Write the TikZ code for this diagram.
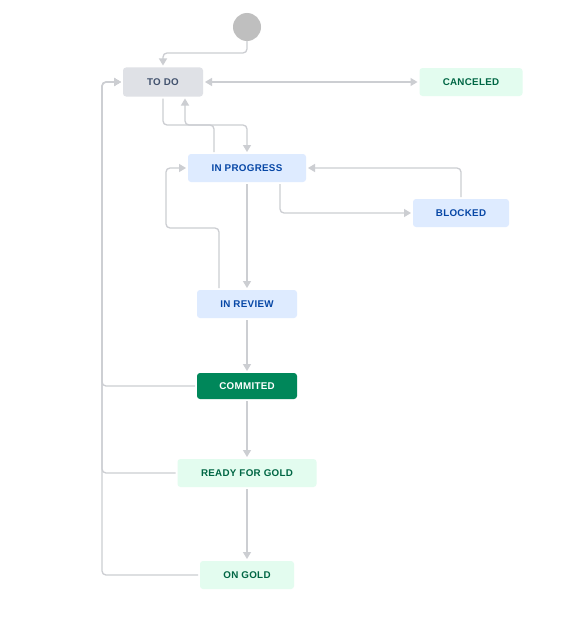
\documentclass[tikz,border=0pt]{standalone}
\usepackage{fontspec}
\setmainfont{Liberation Sans}
\newfontfamily\stfont[LetterSpace=3]{Liberation Sans}
\usetikzlibrary{arrows.meta}
\definecolor{lineC}{HTML}{CCCED2}
\definecolor{startC}{HTML}{BFBFBF}
\definecolor{todoF}{HTML}{DFE1E6}
\definecolor{todoT}{HTML}{42526E}
\definecolor{progF}{HTML}{DEEBFF}
\definecolor{progT}{HTML}{0747A6}
\definecolor{doneF}{HTML}{E3FCEF}
\definecolor{doneT}{HTML}{006644}
\definecolor{comF}{HTML}{00875A}
\tikzset{
  stbox/.style={rounded corners=3pt, inner sep=0pt, outer sep=2pt, font=\stfont\bfseries\fontsize{9.8}{11}\selectfont, anchor=center},
  todobox/.style={stbox, fill=todoF, text=todoT},
  progbox/.style={stbox, fill=progF, text=progT},
  donebox/.style={stbox, fill=doneF, text=doneT},
  combox/.style={stbox, fill=comF, text=white},
  conn/.style={draw=lineC, line width=1.3pt, rounded corners=4pt},
  arr/.style={conn, -{Triangle[length=7pt,width=8pt]}},
  arrb/.style={conn, {Triangle[length=7pt,width=8pt]}-{Triangle[length=7pt,width=8pt]}},
}
\begin{document}
\begin{tikzpicture}[x=1pt,y=-1pt]
\useasboundingbox (0,0) rectangle (574,618);
\fill[white] (0,0) rectangle (574,618);
\node[circle, fill=startC, minimum size=28pt, inner sep=0pt, outer sep=0pt] (start) at (247,27) {};
\node[todobox, minimum width=80pt, minimum height=29pt] (todo) at (163,82) {TO DO};
\node[donebox, minimum width=103pt, minimum height=28pt] (cancel) at (471,82) {CANCELED};
\node[progbox, minimum width=118pt, minimum height=28pt] (inprog) at (247,168) {IN PROGRESS};
\node[progbox, minimum width=96pt, minimum height=28pt] (blocked) at (461,213) {BLOCKED};
\node[progbox, minimum width=100pt, minimum height=28pt] (inreview) at (247,304) {IN REVIEW};
\node[combox, minimum width=100pt, minimum height=26pt] (commit) at (247,386) {COMMITED};
\node[donebox, minimum width=139pt, minimum height=28pt] (ready) at (247,473) {READY FOR GOLD};
\node[donebox, minimum width=94pt, minimum height=28pt] (ongold) at (247,575) {ON GOLD};
\coordinate (h1) at (0,125);
\coordinate (rail) at (102,0);
% start -> to do
\draw[arr] (start.south) -- ++(0,12) -| (todo.north);
% to do <-> canceled
\draw[arrb] (todo.east) -- (cancel.west);
% to do -> in progress
\draw[arr] (todo.south) -- (todo.south |- h1) -| (inprog.north);
% in progress -> to do
\draw[arr] ([xshift=-33pt]inprog.north) -- ([xshift=-33pt]inprog.north |- h1) -| ([xshift=22pt]todo.south);
% in progress -> blocked
\draw[arr] ([xshift=33pt]inprog.south) |- (blocked.west);
% blocked -> in progress
\draw[arr] (blocked.north) |- (inprog.east);
% in progress -> in review
\draw[arr] (inprog.south) -- (inreview.north);
% in review -> in progress
\draw[arr] ([xshift=-28pt]inreview.north) |- ([xshift=-20pt,yshift=-60pt]inprog.west) |- (inprog.west);
% in review -> commited
\draw[arr] (inreview.south) -- (commit.north);
% commited -> ready
\draw[arr] (commit.south) -- (ready.north);
% ready -> on gold
\draw[arr] (ready.south) -- (ongold.north);
% back to to do
\draw[arr] (ongold.west) -- (ongold.west -| rail) -- (rail |- todo.west) -- (todo.west);
\draw[arr] (ready.west) -- (ready.west -| rail) -- (rail |- todo.west) -- (todo.west);
\draw[arr] (commit.west) -- (commit.west -| rail) -- (rail |- todo.west) -- (todo.west);
\end{tikzpicture}
\end{document}
